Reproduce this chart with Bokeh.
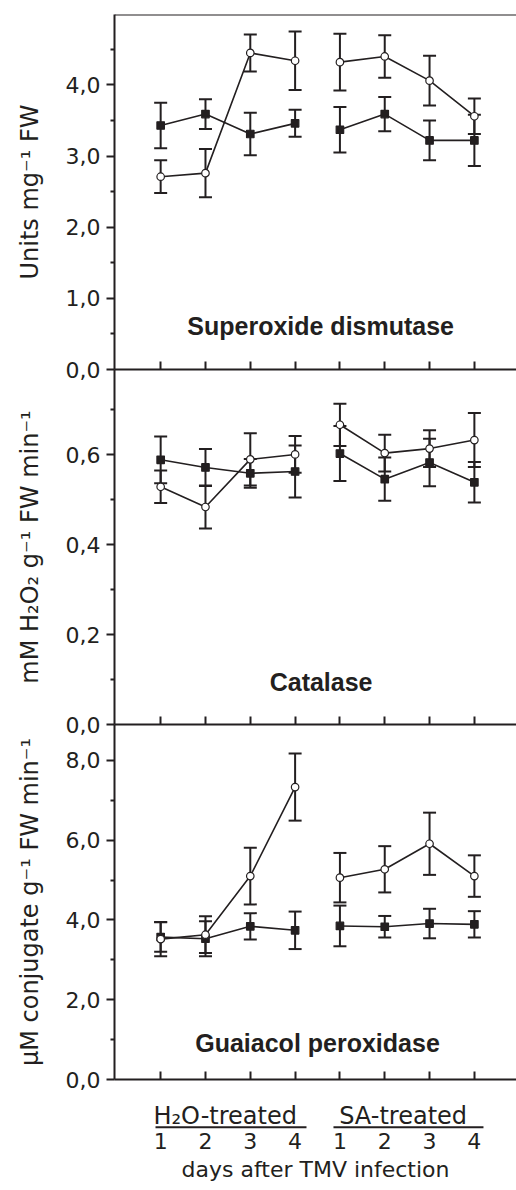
from bokeh.plotting import figure
from bokeh.layouts import column
from bokeh.models import (Range1d, FixedTicker, CustomJSTickFormatter, Whisker, TeeHead,
                          ColumnDataSource, Span, Label, CustomLabelingPolicy)
from bokeh.core.properties import value
from bokeh.embed import file_html
from bokeh.resources import INLINE

# ---------------- data ----------------
days = [1, 2, 3, 4, 5, 6, 7, 8]          # H2O-treated days 1-4, SA-treated days 1-4
day_labels = ["1", "2", "3", "4", "1", "2", "3", "4"]
groups = ["H\u2082O-treated", "SA-treated"]

# Superoxide dismutase (Units mg-1 FW)
sod_sq = [3.43, 3.59, 3.31, 3.46, 3.37, 3.59, 3.22, 3.22]
sod_sq_err = [0.32, 0.21, 0.30, 0.19, 0.32, 0.24, 0.28, 0.36]
sod_ci = [2.71, 2.76, 4.45, 4.34, 4.32, 4.40, 4.06, 3.56]
sod_ci_err = [0.23, 0.34, 0.26, 0.41, 0.40, 0.30, 0.35, 0.25]

# Catalase (mM H2O2 g-1 FW min-1)
cat_sq = [0.589, 0.572, 0.559, 0.563, 0.603, 0.546, 0.583, 0.539]
cat_sq_err = [0.052, 0.041, 0.032, 0.058, 0.061, 0.048, 0.053, 0.045]
cat_ci = [0.529, 0.484, 0.590, 0.601, 0.667, 0.604, 0.614, 0.633]
cat_ci_err = [0.036, 0.048, 0.058, 0.041, 0.047, 0.041, 0.041, 0.060]

# Guaiacol peroxidase (uM conjugate g-1 FW min-1)
pox_sq = [3.57, 3.53, 3.84, 3.74, 3.85, 3.83, 3.91, 3.89]
pox_sq_err = [0.37, 0.44, 0.33, 0.47, 0.51, 0.27, 0.37, 0.33]
pox_ci = [3.52, 3.63, 5.10, 7.33, 5.06, 5.27, 5.91, 5.10]
pox_ci_err = [0.43, 0.46, 0.71, 0.84, 0.62, 0.58, 0.78, 0.52]

# ---------------- style ----------------
INK = "#231f20"
FONT = "DejaVu Sans"
TFONT = "Liberation Sans"
LEFT = 114
OVER = 14

hide_labels = CustomLabelingPolicy(code="""
    const n = indices.size
    for (let i = 0; i < n; i++) { indices.unset(i) }
    return indices
""")

fmt = CustomJSTickFormatter(code="""
    return tick.toFixed(1).replace(".", ",");
""")


def base_fig(frame_h, y_range, top_border, bottom_border):
    p = figure(frame_width=402, frame_height=frame_h,
               x_range=Range1d(-0.03, 8.94), y_range=y_range,
               output_backend="svg", toolbar_location=None,
               min_border_left=LEFT, min_border_right=0,
               min_border_top=top_border, min_border_bottom=bottom_border)
    p.outline_line_color = None
    p.background_fill_color = None
    p.border_fill_color = None
    p.grid.visible = False
    return p


def make_panel(ymax, ticks, minor, ylabel, title, tx, ty,
               sq, sq_err, ci, ci_err, top=False):
    p = base_fig(355, Range1d(0, ymax), OVER if top else 0, OVER)
    if not top:
        p.styles = {"margin-top": "-%dpx" % OVER}

    ya = p.yaxis[0]
    ya.ticker = FixedTicker(ticks=ticks, minor_ticks=minor)
    ya.formatter = fmt
    ya.axis_line_color = INK
    ya.axis_line_width = 2
    ya.major_tick_line_color = INK
    ya.major_tick_line_width = 2
    ya.minor_tick_line_color = INK
    ya.minor_tick_line_width = 2
    ya.major_tick_out = 8
    ya.major_tick_in = 0
    ya.minor_tick_out = 4
    ya.minor_tick_in = 0
    ya.major_label_text_font = FONT
    ya.major_label_text_font_size = "22px"
    ya.major_label_text_color = INK
    ya.major_label_standoff = 6
    ya.axis_label = ylabel
    ya.axis_label_text_font = FONT
    ya.axis_label_text_font_size = "24px"
    ya.axis_label_text_font_style = "normal"
    ya.axis_label_text_color = INK
    ya.axis_label_standoff = 19

    xa = p.xaxis[0]
    xa.ticker = FixedTicker(ticks=days, minor_ticks=[])
    xa.axis_line_color = INK
    xa.axis_line_width = 2
    xa.major_tick_line_color = INK
    xa.major_tick_line_width = 2
    xa.major_tick_in = 8
    xa.major_tick_out = 0
    xa.minor_tick_in = 0
    xa.minor_tick_out = 0
    xa.major_label_text_font_size = "1px"
    xa.major_label_standoff = 0
    xa.major_label_policy = hide_labels

    if top:
        p.add_layout(Span(location=ymax, dimension="width", line_color=INK, line_width=2))

    for vals, errs, marker, fill in ((sq, sq_err, "square", INK), (ci, ci_err, "circle", "white")):
        src = ColumnDataSource(dict(
            x=days, y=vals,
            upper=[v + e for v, e in zip(vals, errs)],
            lower=[v - e for v, e in zip(vals, errs)]))
        p.line(days[:4], vals[:4], line_color=INK, line_width=1.6)
        p.line(days[4:], vals[4:], line_color=INK, line_width=1.6)
        p.add_layout(Whisker(source=src, base="x", upper="upper", lower="lower",
                             line_color=INK, line_width=2,
                             upper_head=TeeHead(size=13, line_color=INK, line_width=2),
                             lower_head=TeeHead(size=13, line_color=INK, line_width=2)))
        p.scatter("x", "y", source=src, marker=marker, size=7.5,
                  fill_color=fill, line_color=INK, line_width=1.2)

    p.add_layout(Label(x=tx, y=ty, text=title, text_font=TFONT, text_font_size="25px",
                       text_font_style="bold", text_color=INK,
                       text_align="center", text_baseline="alphabetic"))
    return p


p1 = make_panel(4.99, [0, 1, 2, 3, 4], [0.5, 1.5, 2.5, 3.5, 4.5],
                "Units mg\u207b\u00b9 FW", "Superoxide dismutase", 4.57, 0.61,
                sod_sq, sod_sq_err, sod_ci, sod_ci_err, top=True)
p2 = make_panel(0.79, [0, 0.2, 0.4, 0.6], [0.1, 0.3, 0.5, 0.7],
                "mM H\u2082O\u2082 g\u207b\u00b9 FW min\u207b\u00b9", "Catalase", 4.58, 0.094,
                cat_sq, cat_sq_err, cat_ci, cat_ci_err)
p3 = make_panel(8.9, [0, 2, 4, 6, 8], [1, 3, 5, 7],
                "\u03bcM conjugate g\u207b\u00b9 FW min\u207b\u00b9", "Guaiacol peroxidase", 4.50, 0.92,
                pox_sq, pox_sq_err, pox_ci, pox_ci_err)

# ---------- strip below: treatment groups, day numbers, x title ----------
group_x = [2.44, 6.41]
group_x0 = [0.885, 4.856]
group_x1 = [4.254, 8.203]

p4 = base_fig(37, Range1d(0, 1), 0, 0)
p4.yaxis.visible = False
p4.text(x=group_x, y=[0.386, 0.386], text=groups, text_font=value(FONT),
        text_font_size="24px", text_color=INK, text_align="center",
        text_baseline="alphabetic")
p4.segment(x0=group_x0, y0=[0.089, 0.089], x1=group_x1, y1=[0.089, 0.089],
           line_color=INK, line_width=2)
xa = p4.xaxis[0]
xa.ticker = FixedTicker(ticks=days, minor_ticks=[])
xa.major_label_overrides = {d: l for d, l in zip(days, day_labels)}
xa.axis_line_color = None
xa.major_tick_in = 0
xa.major_tick_out = 0
xa.minor_tick_in = 0
xa.minor_tick_out = 0
xa.major_label_text_font = FONT
xa.major_label_text_font_size = "22px"
xa.major_label_text_color = INK
xa.major_label_standoff = 2
xa.axis_label = "days after TMV infection"
xa.axis_label_text_font = FONT
xa.axis_label_text_font_size = "22px"
xa.axis_label_text_font_style = "normal"
xa.axis_label_text_color = INK
xa.axis_label_standoff = 5

layout = column(p1, p2, p3, p4, spacing=0)
open("out.html", "w").write(file_html(layout, INLINE))
